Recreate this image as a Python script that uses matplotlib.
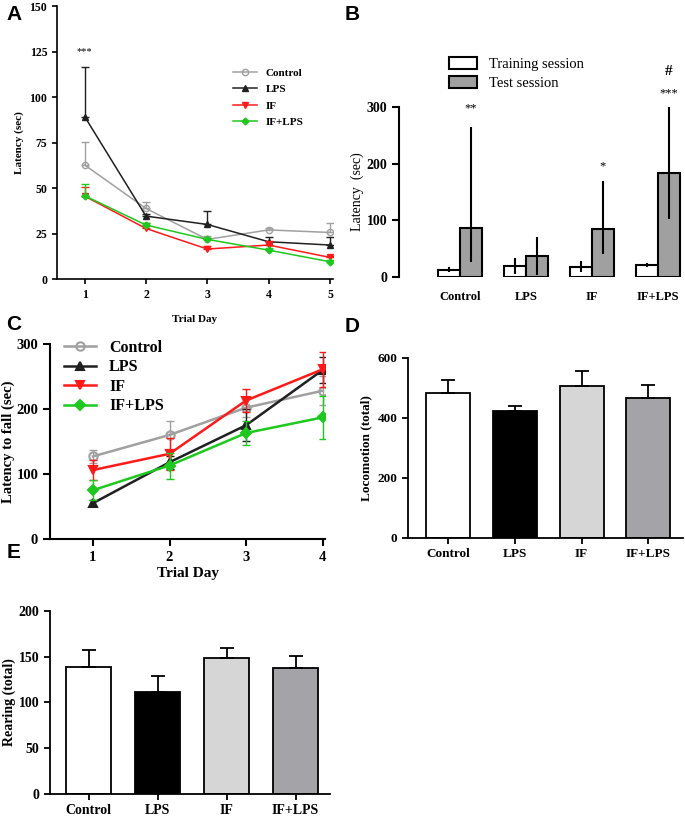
from matplotlib import pyplot as plt
import numpy as np

plt.rcParams['font.family'] = ['Liberation Serif', 'DejaVu Serif']

groups = ['Control', 'LPS', 'IF', 'IF+LPS']

# panel A: water maze latency
daysA = [1, 2, 3, 4, 5]
A_ctrl = [62.7, 38.8, 21.8, 27.0, 25.6]
A_ctrl_err = [12.8, 3.7, 1.8, 1.0, 5.4]
A_lps = [89.3, 34.6, 30.0, 20.5, 18.7]
A_lps_err = [27.0, 1.0, 7.4, 2.5, 4.3]
A_if = [45.6, 27.8, 16.5, 18.7, 11.9]
A_if_err = [5.1, 3.2, 1.5, 2.3, 1.0]
A_iflps = [45.8, 29.7, 21.8, 15.9, 9.5]
A_iflps_err = [6.7, 1.0, 1.0, 1.0, 1.0]

# panel B: passive avoidance
B_train = [13, 19.5, 17.7, 22]
B_train_lo = [9, 6, 9, 18]
B_train_hi = [18, 34, 28, 25]
B_test = [86, 38, 85, 184]
B_test_lo = [27, 3, 40, 102]
B_test_hi = [264, 70, 170, 300]

# panel C: rotarod
daysC = [1, 2, 3, 4]
C_ctrl = [127, 160, 202, 228]
C_ctrl_err = [10, 22, 15, 22]
C_lps = [55, 118, 175, 260]
C_lps_err = [5, 10, 25, 20]
C_if = [106, 131, 213, 261]
C_if_err = [15, 25, 18, 27]
C_iflps = [75, 113, 163, 187]
C_iflps_err = [15, 20, 18, 33]

# panel D / E: open field
D_loco = [483, 422, 506, 466]
D_loco_err = [45, 19, 52, 43]
E_rear = [139, 111.5, 149, 138]
E_rear_err = [18, 17, 10, 13]

bar_cols = ['white', 'black', '#d6d6d6', '#a3a3a8']
line_cols = ['#a0a0a0', '#202020', '#ff1a1a', '#1ec81e']

fig = plt.figure(figsize=(6.85, 8.16), dpi=100)

def spines(ax, lw=1.0, bottom=True):
    ax.spines['top'].set_visible(False)
    ax.spines['right'].set_visible(False)
    ax.spines['left'].set_linewidth(lw)
    ax.spines['bottom'].set_linewidth(lw)
    if not bottom:
        ax.spines['bottom'].set_visible(False)

#### A
ax = fig.add_axes([0.0832, 0.658, 0.403, 0.3346])
series = [(A_ctrl, A_ctrl_err, 'o', 'Control'), (A_lps, A_lps_err, '^', 'LPS'),
          (A_if, A_if_err, 'v', 'IF'), (A_iflps, A_iflps_err, 'D', 'IF+LPS')]
for (y, e, m, lab), c in zip(series, line_cols):
    mfc = 'none' if m == 'o' else c
    ms = 3.5 if m == 'D' else 4.5
    ax.errorbar(daysA, y, yerr=[np.zeros(len(e)), e], fmt='none', ecolor=c,
                capsize=3, elinewidth=1)
    ax.plot(daysA, y, color=c, marker=m, mfc=mfc, ms=ms, lw=1.1, label=lab)
ax.set_xlim(0.55, 5.05)
ax.set_ylim(0, 150)
ax.set_yticks([0, 25, 50, 75, 100, 125, 150])
ax.set_xticks(daysA)
spines(ax, 1.2)
ax.tick_params(labelsize=8.5, width=1.2)
for t in ax.get_xticklabels() + ax.get_yticklabels():
    t.set_fontweight('bold')
ax.set_ylabel('Latency (sec)', fontsize=8, fontweight='bold')
ax.set_xlabel('Trial Day', fontsize=8, fontweight='bold', labelpad=10)
ax.text(1, 125, '***', ha='center', va='center', fontsize=7.5)
ax.legend(loc='upper left', bbox_to_anchor=(0.6, 0.81), frameon=False,
          prop={'size': 8, 'weight': 'bold'}, handlelength=2.2, labelspacing=0.6)

#### B
ax = fig.add_axes([0.5825, 0.6605, 0.4146, 0.2083])
x = np.arange(4)
w = 1/3.
ax.bar(x - w/2, B_train, w, color='white', edgecolor='black', lw=1.5, label='Training session')
ax.bar(x + w/2, B_test, w, color='#a0a0a0', edgecolor='black', lw=1.5, label='Test session')
ax.errorbar(x - w/2, B_train, yerr=[np.array(B_train) - B_train_lo, np.array(B_train_hi) - B_train],
            fmt='none', ecolor='black', elinewidth=1.5, capsize=0)
ax.errorbar(x + w/2, B_test, yerr=[np.array(B_test) - B_test_lo, np.array(B_test_hi) - B_test],
            fmt='none', ecolor='black', elinewidth=1.5, capsize=0)
ax.set_xlim(-0.924, 3.38)
ax.set_ylim(0, 300)
ax.set_yticks([0, 100, 200, 300])
ax.set_xticks(x)
ax.set_xticklabels(groups)
spines(ax, 1.5, bottom=False)
ax.tick_params(axis='x', length=0, pad=10, labelsize=9)
ax.tick_params(axis='y', labelsize=10, width=1.5, length=5)
for t in ax.get_xticklabels() + ax.get_yticklabels():
    t.set_fontweight('bold')
ax.set_ylabel('Latency  (sec)', fontsize=10, labelpad=2)
for xi, yi, s in [(x[0] + w/2, 298, '**'), (x[2] + w/2, 196, '*'), (x[3] + w/2, 325, '***'),
                  (x[3] + w/2, 362, '#')]:
    ax.text(xi, yi, s, ha='center', va='center', fontsize=11 if s == '#' else 9,
            fontweight='bold' if s == '#' else 'normal', clip_on=False)
ax.legend(loc='center left', bbox_to_anchor=(0.637, 0.91), bbox_transform=fig.transFigure,
          frameon=False, prop={'size': 10.5}, handlelength=1.9, handleheight=0.9,
          labelspacing=0.35, handletextpad=0.8)

#### C
ax = fig.add_axes([0.073, 0.3395, 0.4015, 0.239])
series = [(C_ctrl, C_ctrl_err, 'o', 'Control'), (C_lps, C_lps_err, '^', 'LPS'),
          (C_if, C_if_err, 'v', 'IF'), (C_iflps, C_iflps_err, 'D', 'IF+LPS')]
for (y, e, m, lab), c in zip(series, line_cols):
    mfc = 'none' if m == 'o' else c
    ms = 5 if m == 'D' else 6
    ax.errorbar(daysC, y, yerr=e, fmt='none', ecolor=c, capsize=3, elinewidth=1)
    ax.plot(daysC, y, color=c, marker=m, mfc=mfc, ms=ms, mew=1.5, lw=1.8, label=lab)
ax.set_xlim(0.44, 4.03)
ax.set_ylim(0, 300)
ax.set_yticks([0, 100, 200, 300])
ax.set_xticks(daysC)
spines(ax, 1.5)
ax.tick_params(labelsize=10.5, width=1.5, length=5)
for t in ax.get_xticklabels() + ax.get_yticklabels():
    t.set_fontweight('bold')
ax.set_ylabel('Latency to fall (sec)', fontsize=10.5, fontweight='bold', labelpad=1)
ax.set_xlabel('Trial Day', fontsize=11, fontweight='bold', labelpad=2)
ax.legend(loc='upper left', bbox_to_anchor=(0.0, 1.095), frameon=False,
          prop={'size': 11.5, 'weight': 'bold'}, handlelength=2.0, labelspacing=0.22)

#### D
ax = fig.add_axes([0.5956, 0.3407, 0.4015, 0.2206])
x = np.arange(4)
ax.bar(x, D_loco, 0.66, color=bar_cols, edgecolor='black', lw=1.3)
ax.errorbar(x, D_loco, yerr=[np.zeros(4), D_loco_err], fmt='none', ecolor='black',
            elinewidth=1.3, capsize=5, capthick=1.3)
ax.set_xlim(-0.6, 3.52)
ax.set_ylim(0, 600)
ax.set_yticks([0, 200, 400, 600])
ax.set_xticks(x)
ax.set_xticklabels(groups)
spines(ax, 1.3)
ax.tick_params(labelsize=9.5, width=1.3, length=4)
for t in ax.get_xticklabels() + ax.get_yticklabels():
    t.set_fontweight('bold')
ax.set_ylabel('Locomotion (total)', fontsize=9.5, fontweight='bold')

#### E
ax = fig.add_axes([0.073, 0.027, 0.409, 0.2243])
ax.bar(x, E_rear, 0.66, color=bar_cols, edgecolor='black', lw=1.3)
ax.errorbar(x, E_rear, yerr=[np.zeros(4), E_rear_err], fmt='none', ecolor='black',
            elinewidth=1.3, capsize=5, capthick=1.3)
ax.set_xlim(-0.56, 3.5)
ax.set_ylim(0, 200)
ax.set_yticks([0, 50, 100, 150, 200])
ax.set_xticks(x)
ax.set_xticklabels(groups)
spines(ax, 1.3)
ax.tick_params(labelsize=10, width=1.3, length=4)
for t in ax.get_xticklabels() + ax.get_yticklabels():
    t.set_fontweight('bold')
ax.set_ylabel('Rearing (total)', fontsize=10, fontweight='bold', labelpad=2)

for lab, xx, yy in [('A', 14, 15), ('B', 352, 15), ('C', 14, 325), ('D', 352, 327), ('E', 14, 552)]:
    fig.text(xx/685., 1 - yy/816., lab, fontsize=15, fontweight='bold', family='Liberation Sans',
             ha='center', va='center')

plt.savefig('out.png', dpi=100)
